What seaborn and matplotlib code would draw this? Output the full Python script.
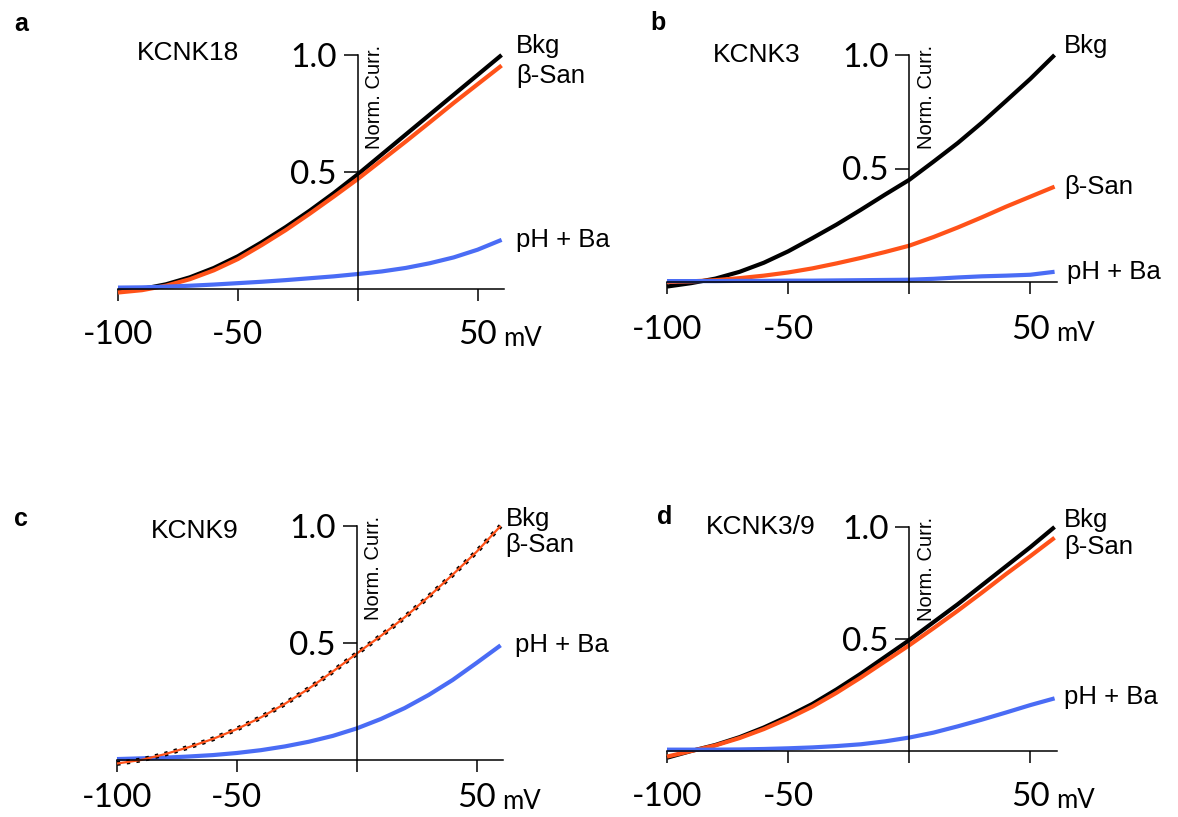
import numpy as np
import pandas as pd
import seaborn as sns
import matplotlib.pyplot as plt

sns.set_style('white')
plt.rcParams['font.family'] = ['Liberation Sans', 'DejaVu Sans']
plt.rcParams['text.color'] = 'black'
plt.rcParams['xtick.color'] = 'black'
plt.rcParams['ytick.color'] = 'black'

# membrane potential (mV)
mv = [-100, -90, -80, -70, -60, -50, -40, -30, -20, -10, 0, 10, 20, 30, 40, 50, 60]

# KCNK18
bkg_a = [-0.01, 0.0, 0.02, 0.05, 0.09, 0.14, 0.2, 0.265, 0.335, 0.41, 0.49, 0.575, 0.66, 0.745, 0.83, 0.915, 1.0]
san_a = [-0.015, -0.005, 0.014, 0.042, 0.08, 0.128, 0.188, 0.252, 0.322, 0.395, 0.47, 0.55, 0.63, 0.712, 0.795, 0.875, 0.955]
ph_a = [0.006, 0.007, 0.01, 0.014, 0.019, 0.025, 0.031, 0.038, 0.046, 0.054, 0.064, 0.075, 0.09, 0.11, 0.135, 0.168, 0.21]

# KCNK3
bkg_b = [-0.02, -0.005, 0.015, 0.045, 0.085, 0.135, 0.193, 0.253, 0.318, 0.385, 0.45, 0.53, 0.612, 0.702, 0.798, 0.895, 1.0]
san_b = [0.0, 0.003, 0.008, 0.017, 0.028, 0.042, 0.06, 0.082, 0.106, 0.132, 0.16, 0.198, 0.24, 0.285, 0.332, 0.376, 0.42]
ph_b = [0.004, 0.004, 0.004, 0.005, 0.005, 0.006, 0.006, 0.007, 0.008, 0.009, 0.01, 0.014, 0.02, 0.025, 0.028, 0.032, 0.045]

# KCNK9 (Bkg and b-San overlap)
bkg_c = [-0.015, 0.0, 0.025, 0.055, 0.09, 0.132, 0.182, 0.24, 0.305, 0.378, 0.455, 0.53, 0.61, 0.698, 0.792, 0.89, 1.0]
san_c = [-0.015, 0.0, 0.025, 0.055, 0.09, 0.132, 0.182, 0.24, 0.305, 0.378, 0.455, 0.53, 0.61, 0.698, 0.792, 0.89, 1.0]
ph_c = [0.004, 0.007, 0.01, 0.015, 0.021, 0.03, 0.042, 0.058, 0.078, 0.103, 0.135, 0.175, 0.222, 0.278, 0.342, 0.415, 0.49]

# KCNK3/9
bkg_d = [-0.03, 0.0, 0.027, 0.062, 0.105, 0.155, 0.21, 0.275, 0.345, 0.42, 0.495, 0.575, 0.655, 0.74, 0.825, 0.91, 1.0]
san_d = [-0.025, 0.0, 0.025, 0.058, 0.098, 0.145, 0.198, 0.26, 0.328, 0.4, 0.472, 0.548, 0.626, 0.707, 0.79, 0.87, 0.952]
ph_d = [0.006, 0.006, 0.006, 0.007, 0.009, 0.012, 0.016, 0.022, 0.03, 0.043, 0.06, 0.082, 0.11, 0.14, 0.172, 0.205, 0.235]

names = ['KCNK18', 'KCNK3', 'KCNK9', 'KCNK3/9']
letters = ['a', 'b', 'c', 'd']
series = [(bkg_a, san_a, ph_a), (bkg_b, san_b, ph_b), (bkg_c, san_c, ph_c), (bkg_d, san_d, ph_d)]
# label heights (Bkg, b-San, pH + Ba) in data units
label_y = [(1.04, 0.91, 0.21), (1.04, 0.42, 0.045), (1.03, 0.92, 0.49), (1.03, 0.91, 0.24)]
label_x = [(66, 66, 66), (64, 64, 65), (62, 62, 66), (64, 64, 64)]
title_pos = [(-92, 1.01), (-81, 1.0), (-86, 0.98), (-84, 1.0)]
xpad = [14, 15, 8, 14]

BLACK = '#000000'
ORANGE = '#ff5219'
BLUE = '#4a6cf5'
NUMFONT = ['Lato', 'DejaVu Sans']

W, H = 1178, 817
# axes boxes in pixels: left, right, y of 1.0, y of 0
boxes = [(118, 504, 55, 289), (667, 1057, 55, 282), (117, 503, 526, 760), (667, 1057, 527, 751)]
ybot = -0.05

fig = plt.figure(figsize=(W / 100, H / 100), dpi=100)

for i in range(4):
    l, r, t, z = boxes[i]
    unit = z - t
    b = z - ybot * unit
    ax = fig.add_axes([l / W, 1 - b / H, (r - l) / W, (b - t) / H])
    ax.patch.set_alpha(0)

    bkg, san, ph = series[i]
    df = pd.DataFrame({'mV': mv * 3,
                       'I': bkg + san + ph,
                       'cond': ['Bkg'] * len(mv) + ['b-San'] * len(mv) + ['pH + Ba'] * len(mv)})

    if i == 2:
        sns.lineplot(data=df[df['cond'] == 'pH + Ba'], x='mV', y='I', color=BLUE, lw=3, ax=ax)
        sns.lineplot(data=df[df['cond'] == 'Bkg'], x='mV', y='I', color=BLACK, lw=3.5,
                     linestyle=(0, (0.7, 1.3)), ax=ax)
        sns.lineplot(data=df[df['cond'] == 'b-San'], x='mV', y='I', color=ORANGE, lw=1.6, ax=ax)
    else:
        sns.lineplot(data=df, x='mV', y='I', hue='cond',
                     palette={'Bkg': BLACK, 'b-San': ORANGE, 'pH + Ba': BLUE},
                     lw=3, legend=False, ax=ax)
    for ln in ax.lines:
        ln.set_clip_on(False)
        ln.set_solid_capstyle('butt')

    ax.set_xlim(-100, 61)
    ax.set_ylim(ybot, 1.0)
    ax.set_xlabel('')
    ax.set_ylabel('')

    for s in ['top', 'right']:
        ax.spines[s].set_visible(False)
    ax.spines['bottom'].set_position(('data', 0))
    ax.spines['left'].set_position(('data', 0))
    ax.spines['left'].set_bounds(0, 1.0)
    for s in ['bottom', 'left']:
        ax.spines[s].set_linewidth(1.1)
        ax.spines[s].set_color('black')

    ax.set_xticks([-100, -50, 0, 50])
    ax.set_xticklabels(['-100', '-50', '', '50'])
    ax.set_yticks([0.5, 1.0])
    ax.set_yticklabels(['0.5', '1.0'])
    ax.tick_params(axis='x', bottom=True, direction='out', length=8.6, width=1.1, pad=xpad[i], labelsize=24)
    ax.tick_params(axis='y', left=True, direction='out', length=10, width=1.1, pad=5, labelsize=24)
    for lab in ax.get_xticklabels() + ax.get_yticklabels():
        lab.set_family(NUMFONT)

    ax.annotate('mV', xy=(60.5, 0), xytext=(0, -22 - xpad[i]), textcoords='offset points',
                ha='left', va='center', fontsize=18.5, family=NUMFONT,
                annotation_clip=False)
    ax.text(3, 1.045, 'Norm. Curr.', rotation=90, ha='left', va='top', fontsize=14.5)
    ax.text(title_pos[i][0], title_pos[i][1], names[i], ha='left', va='center', fontsize=19)

    lx = label_x[i]
    ly = label_y[i]
    ax.text(lx[0], ly[0], 'Bkg', ha='left', va='center', fontsize=18.5, clip_on=False)
    ax.text(lx[1], ly[1], 'β-San', ha='left', va='center', fontsize=18.5, clip_on=False)
    ax.text(lx[2], ly[2], 'pH + Ba', ha='left', va='center', fontsize=18.5, clip_on=False)

# panel letters
letter_px = [(14, 24), (650, 23), (14, 519), (657, 517)]
for k in range(4):
    fig.text(letter_px[k][0] / W, 1 - letter_px[k][1] / H, letters[k],
             fontsize=18, fontweight='bold', ha='left', va='center')

fig.savefig('out.png', dpi=100)
